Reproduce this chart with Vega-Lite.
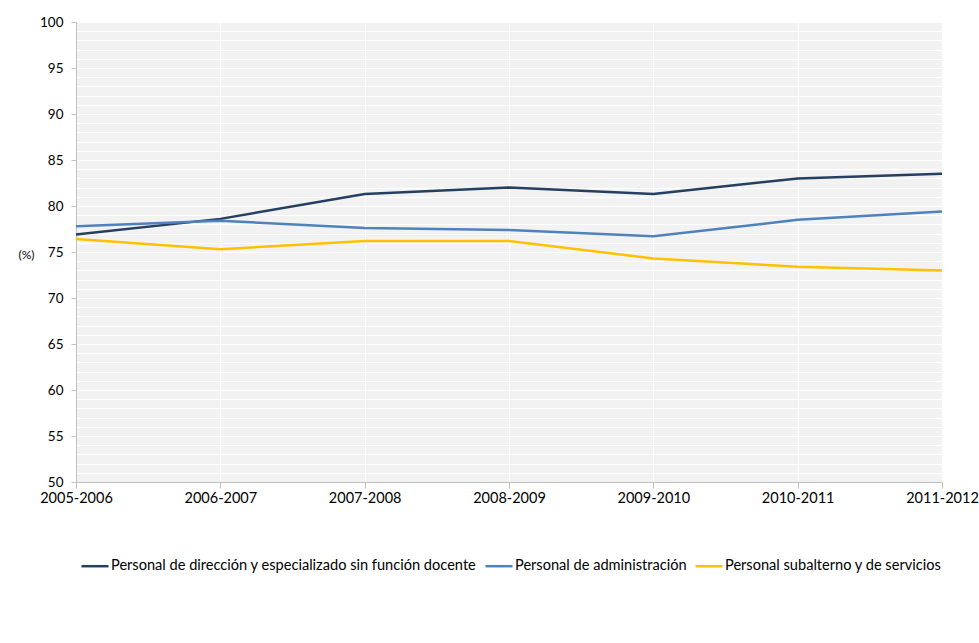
{
  "$schema": "https://vega.github.io/schema/vega-lite/v6.json",
  "autosize": "none",
  "width": 866,
  "height": 460,
  "padding": {"left": 76, "top": 22, "right": 37, "bottom": 139},
  "background": "white",
  "config": {
    "font": "Lato",
    "view": {"fill": "#F2F2F2", "stroke": null}
  },
  "data": {
    "values": [
      {"periodo": "2005-2006", "serie": "Personal de dirección y especializado sin función docente", "valor": 76.9},
      {"periodo": "2006-2007", "serie": "Personal de dirección y especializado sin función docente", "valor": 78.6},
      {"periodo": "2007-2008", "serie": "Personal de dirección y especializado sin función docente", "valor": 81.3},
      {"periodo": "2008-2009", "serie": "Personal de dirección y especializado sin función docente", "valor": 82.0},
      {"periodo": "2009-2010", "serie": "Personal de dirección y especializado sin función docente", "valor": 81.3},
      {"periodo": "2010-2011", "serie": "Personal de dirección y especializado sin función docente", "valor": 83.0},
      {"periodo": "2011-2012", "serie": "Personal de dirección y especializado sin función docente", "valor": 83.5},
      {"periodo": "2005-2006", "serie": "Personal de administración", "valor": 77.8},
      {"periodo": "2006-2007", "serie": "Personal de administración", "valor": 78.4},
      {"periodo": "2007-2008", "serie": "Personal de administración", "valor": 77.6},
      {"periodo": "2008-2009", "serie": "Personal de administración", "valor": 77.4},
      {"periodo": "2009-2010", "serie": "Personal de administración", "valor": 76.7},
      {"periodo": "2010-2011", "serie": "Personal de administración", "valor": 78.5},
      {"periodo": "2011-2012", "serie": "Personal de administración", "valor": 79.4},
      {"periodo": "2005-2006", "serie": "Personal subalterno y de servicios", "valor": 76.4},
      {"periodo": "2006-2007", "serie": "Personal subalterno y de servicios", "valor": 75.3},
      {"periodo": "2007-2008", "serie": "Personal subalterno y de servicios", "valor": 76.2},
      {"periodo": "2008-2009", "serie": "Personal subalterno y de servicios", "valor": 76.2},
      {"periodo": "2009-2010", "serie": "Personal subalterno y de servicios", "valor": 74.3},
      {"periodo": "2010-2011", "serie": "Personal subalterno y de servicios", "valor": 73.4},
      {"periodo": "2011-2012", "serie": "Personal subalterno y de servicios", "valor": 73.0}
    ]
  },
  "mark": {"type": "line", "strokeWidth": 2.5},
  "encoding": {
    "x": {
      "field": "periodo",
      "type": "ordinal",
      "scale": {"type": "point", "padding": 0},
      "axis": {
        "title": null,
        "labelAngle": 0,
        "labelFontSize": 14.5,
        "labelFont": "Lato",
        "labelColor": "#000000",
        "labelPadding": 3,
        "tickSize": 6,
        "tickColor": "#BFBFBF",
        "domainColor": "#BFBFBF",
        "grid": true,
        "gridColor": "#FFFFFF",
        "gridWidth": 1,
        "zindex": 0
      }
    },
    "y": {
      "field": "valor",
      "type": "quantitative",
      "scale": {"domain": [50, 100], "nice": false, "zero": false},
      "axis": {
        "title": "(%)",
        "titleAngle": 0,
        "titleX": -50,
        "titleY": 232,
        "titleAlign": "center",
        "titleBaseline": "middle",
        "titleFontSize": 12,
        "titleFontWeight": "normal",
        "titleColor": "#000000",
        "values": [50,51,52,53,54,55,56,57,58,59,60,61,62,63,64,65,66,67,68,69,70,71,72,73,74,75,76,77,78,79,80,81,82,83,84,85,86,87,88,89,90,91,92,93,94,95,96,97,98,99,100],
        "labelExpr": "datum.value % 5 === 0 ? datum.label : ''",
        "labelOverlap": false,
        "labelFontSize": 13.5,
        "labelColor": "#000000",
        "labelPadding": 8,
        "tickSize": 5,
        "tickColor": "#BFBFBF",
        "tickOpacity": {"condition": {"test": "datum.value % 5 === 0", "value": 1}, "value": 0},
        "domainColor": "#BFBFBF",
        "grid": true,
        "gridColor": "#FFFFFF",
        "gridWidth": 1,
        "zindex": 0
      }
    },
    "color": {
      "field": "serie",
      "type": "nominal",
      "scale": {
        "domain": ["Personal de dirección y especializado sin función docente", "Personal de administración", "Personal subalterno y de servicios"],
        "range": ["#243F60", "#4F81BD", "#FFC000"]
      },
      "legend": {
        "title": null,
        "orient": "none",
        "direction": "horizontal",
        "legendX": 4,
        "legendY": 529,
        "symbolType": "stroke",
        "symbolSize": 729,
        "symbolStrokeWidth": 2.5,
        "labelFontSize": 14.6,
        "labelColor": "#000000",
        "labelLimit": 600,
        "labelOffset": 1,
        "columnPadding": 3
      }
    }
  }
}
